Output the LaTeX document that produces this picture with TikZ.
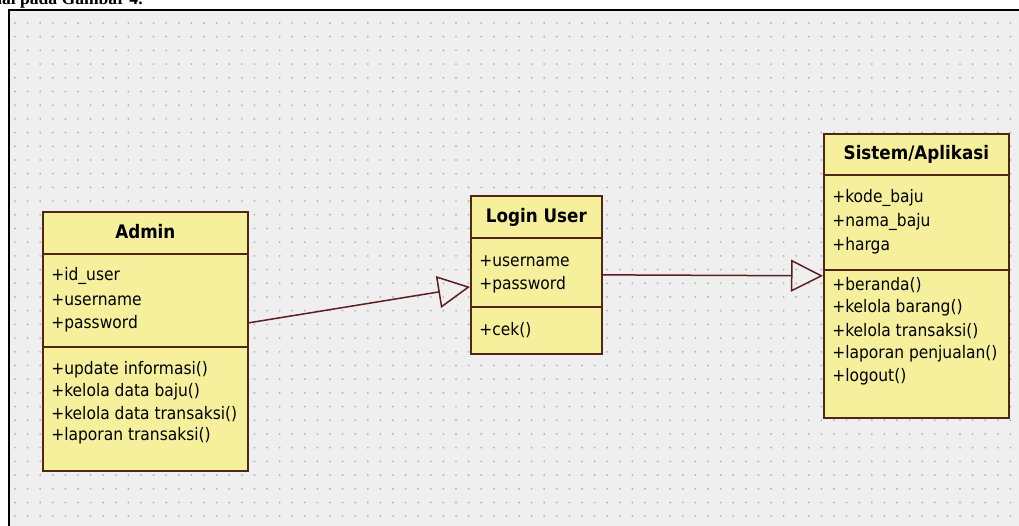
\documentclass[tikz,border=0pt]{standalone}
\usepackage{fontspec}
\setmainfont{Liberation Serif}
\newfontfamily\umlfont{DejaVu Sans Condensed}
\usetikzlibrary{arrows.meta}

\definecolor{umlfill}{RGB}{246,239,155}
\definecolor{umlline}{RGB}{80,38,22}
\definecolor{linkline}{RGB}{92,30,30}
\definecolor{canvas}{RGB}{239,239,239}
\definecolor{griddot}{RGB}{182,182,182}

\begin{document}
\begin{tikzpicture}[
	x=0.02cm, y=-0.02cm,
	classbox/.style={
		draw=umlline, fill=umlfill, line width=0.035cm,
		anchor=north west, inner sep=0pt
	},
	divider/.style={draw=umlline, line width=0.035cm},
	classname/.style={font=\umlfont\bfseries\fontsize{10.6}{13}\selectfont, inner sep=0pt},
	member/.style={font=\umlfont\fontsize{9.8}{12}\selectfont, anchor=west, inner sep=0pt},
	generalize/.style={
		draw=linkline, line width=0.03cm,
		-{Triangle[open, length=0.64cm, width=0.64cm]}
	}
]
	\useasboundingbox (0,0) rectangle (1019,526);

	% Canvas with dotted grid
	\fill[canvas] (9,10) rectangle (1019,526);
	\foreach \x in {0,...,80} {
		\foreach \y in {0,...,37} {
			\fill[griddot] ({15+12.6*\x}, {23+13.7*\y}) circle[radius=0.6pt];
		}
	}
	\draw[line width=0.04cm] (9,526) -- (9,10) -- (1019,10);

	% Caption line above the frame
	\begin{scope}
		\clip (0,0) rectangle (1019,9);
		\node[anchor=base east, inner sep=0pt, font=\bfseries\fontsize{10}{11}\selectfont]
			(caption) at (143,4.5) {nai pada Gambar 4.};
	\end{scope}

	% Admin
	\node[classbox, minimum width=4.1cm, minimum height=5.18cm] (admin) at (42,211) {};
	\draw[divider] (admin.west |- 0,254) -- (admin.east |- 0,254);
	\draw[divider] (admin.west |- 0,347) -- (admin.east |- 0,347);
	\node[classname] (admin-name) at (admin.north |- 0,232) {Admin};
	\foreach \y/\txt [count=\i] in {276/+id\_user, 300/+username, 324/+password} {
		\node[member] (admin-a\i) at (51,\y) {\txt};
	}
	\foreach \y/\txt [count=\i] in {370/+update informasi(), 392/+kelola data baju(),
			414/+kelola data transaksi(), 436/+laporan transaksi()} {
		\node[member] (admin-m\i) at (51,\y) {\txt};
	}

	% Login User
	\node[classbox, minimum width=2.62cm, minimum height=3.16cm] (login) at (470,195) {};
	\draw[divider] (login.west |- 0,238) -- (login.east |- 0,238);
	\draw[divider] (login.west |- 0,307) -- (login.east |- 0,307);
	\node[classname] (login-name) at (login.north |- 0,217) {Login User};
	\foreach \y/\txt [count=\i] in {261/+username, 285/+password} {
		\node[member] (login-a\i) at (479,\y) {\txt};
	}
	\node[member] (login-m1) at (479,330) {+cek()};

	% Sistem/Aplikasi
	\node[classbox, minimum width=3.7cm, minimum height=5.68cm] (sistem) at (823,133) {};
	\draw[divider] (sistem.west |- 0,175) -- (sistem.east |- 0,175);
	\draw[divider] (sistem.west |- 0,270) -- (sistem.east |- 0,270);
	\node[classname] (sistem-name) at (sistem.north |- 0,154) {Sistem/Aplikasi};
	\foreach \y/\txt [count=\i] in {198/+kode\_baju, 222/+nama\_baju, 246/+harga} {
		\node[member] (sistem-a\i) at (832,\y) {\txt};
	}
	\foreach \y/\txt [count=\i] in {285/+beranda(), 308/+kelola barang(), 331/+kelola transaksi(),
			354/+laporan penjualan(), 377/+logout()} {
		\node[member] (sistem-m\i) at (832,\y) {\txt};
	}

	% Generalizations
	\draw[generalize] ([yshift=0.37cm]admin.east) -- ([yshift=-0.24cm]login.west);
	\draw[generalize] (login.east) -- (sistem.west);
\end{tikzpicture}
\end{document}
